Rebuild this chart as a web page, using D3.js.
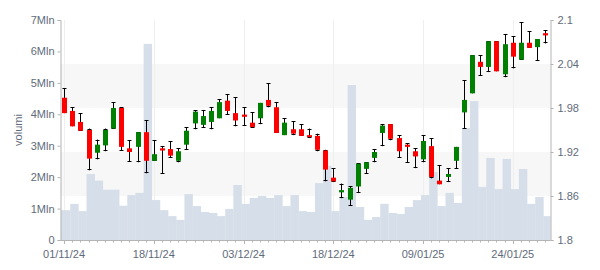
<!DOCTYPE html>
<html>
<head>
<meta charset="utf-8">
<script src="https://cdn.jsdelivr.net/npm/d3@7"></script>
<style>
  html, body { margin: 0; padding: 0; background: #fff; }
  svg { display: block; font-family: "Liberation Sans", Arial, sans-serif; }
</style>
</head>
<body>
<svg id="chart" width="600" height="270"></svg>
<script>
// ---- data ----
const dates = [
  "2024-11-01","2024-11-04","2024-11-05","2024-11-06","2024-11-07","2024-11-08",
  "2024-11-11","2024-11-12","2024-11-13","2024-11-14","2024-11-15",
  "2024-11-18","2024-11-19","2024-11-20","2024-11-21","2024-11-22",
  "2024-11-25","2024-11-26","2024-11-27","2024-11-28","2024-11-29",
  "2024-12-02","2024-12-03","2024-12-04","2024-12-05","2024-12-06",
  "2024-12-09","2024-12-10","2024-12-11","2024-12-12","2024-12-13",
  "2024-12-16","2024-12-17","2024-12-18","2024-12-19","2024-12-20",
  "2024-12-23","2024-12-27","2024-12-30",
  "2025-01-02","2025-01-03","2025-01-06","2025-01-07","2025-01-08","2025-01-09","2025-01-10",
  "2025-01-13","2025-01-14","2025-01-15","2025-01-16","2025-01-17",
  "2025-01-20","2025-01-21","2025-01-22","2025-01-23","2025-01-24",
  "2025-01-27","2025-01-28","2025-01-29","2025-01-30"
];
const openP = [
  1.994,1.976,1.961,1.950,1.919,1.929,1.952,1.980,1.925,1.927,1.947,
  1.908,1.925,1.924,1.908,1.930,1.959,1.957,1.961,1.966,1.990,
  1.973,1.971,1.960,1.966,1.991,1.981,1.943,1.951,1.951,1.943,
  1.942,1.922,1.885,1.865,1.855,1.873,1.897,1.912,
  1.946,1.958,1.939,1.930,1.921,1.910,1.928,1.881,1.886,1.908,1.974,2.000,
  2.043,2.036,2.071,2.026,2.069,2.046,2.069,2.063,2.082
];
const highP = [
  2.007,1.981,1.973,1.952,1.937,1.952,1.988,1.981,1.936,1.947,1.963,
  1.936,1.928,1.935,1.925,1.954,1.977,1.977,1.981,1.992,1.999,
  1.995,1.981,1.974,1.987,2.014,1.988,1.966,1.962,1.958,1.952,
  1.945,1.923,1.898,1.877,1.873,1.905,1.906,1.924,
  1.958,1.958,1.943,1.932,1.925,1.943,1.939,1.902,1.898,1.927,2.018,2.052,
  2.052,2.071,2.071,2.081,2.078,2.097,2.085,2.074,2.086
];
const lowP = [
  1.973,1.955,1.949,1.895,1.910,1.921,1.952,1.922,1.907,1.906,1.891,
  1.908,1.890,1.912,1.906,1.923,1.951,1.953,1.951,1.966,1.971,
  1.955,1.956,1.953,1.958,1.981,1.946,1.943,1.943,1.942,1.939,
  1.921,1.880,1.879,1.857,1.847,1.864,1.890,1.906,
  1.928,1.936,1.912,1.905,1.898,1.906,1.884,1.876,1.879,1.897,1.952,2.000,
  2.024,2.029,2.030,2.022,2.034,2.046,2.062,2.044,2.068
];
const closeP = [
  1.973,1.955,1.949,1.911,1.930,1.950,1.980,1.927,1.920,1.947,1.908,
  1.917,1.922,1.915,1.921,1.949,1.975,1.969,1.976,1.988,1.976,
  1.963,1.968,1.954,1.987,1.983,1.946,1.960,1.945,1.942,1.941,
  1.923,1.896,1.880,1.868,1.871,1.904,1.906,1.920,
  1.956,1.938,1.921,1.927,1.914,1.935,1.886,1.876,1.890,1.927,1.991,2.052,
  2.036,2.071,2.030,2.067,2.050,2.069,2.062,2.074,2.079
];
const volume = [
  950000,1150000,920000,2100000,1890000,1600000,1600000,1090000,1430000,1500000,6240000,
  1270000,950000,760000,640000,1460000,1080000,890000,860000,760000,990000,
  1750000,1150000,1340000,1400000,1340000,1430000,1080000,1430000,920000,890000,
  1810000,2360000,920000,1370000,4930000,1050000,640000,730000,
  1150000,860000,830000,1050000,1270000,1430000,2160000,1080000,1500000,1180000,3560000,4420000,
  1690000,2610000,1620000,2580000,1620000,2260000,1150000,1370000,760000
];
const volTicks = [0,1e6,2e6,3e6,4e6,5e6,6e6,7e6];
const priceTicks = [1.8,1.86,1.92,1.98,2.04,2.1];
const dateTickIdx = [0,11,22,33,44,55];
const yTitle = "volumi";

// ---- layout ----
const L = 60.5, R = 550.5, T = 20, B = 240;
const txtColor = "#5f6b7b", axisColor = "#b4b4b4";
const svg = d3.select("#chart");

const x = d3.scaleBand().domain(dates).range([L - 0.5, R - 1]).padding(0);
const step = x.step();
const xc = d => x(d) + step / 2;
const yV = d3.scaleLinear().domain([0, 7e6]).range([B, T]);
const yP = d3.scaleLinear().domain([1.8, 2.1]).range([B, T]);

const data = dates.map((d, i) => ({ d, i, o: openP[i], h: highP[i], l: lowP[i], c: closeP[i], v: volume[i] }));

// clip
svg.append("defs").append("clipPath").attr("id", "plot")
  .append("rect").attr("x", L).attr("y", T).attr("width", R - L).attr("height", B - T);

// alternate bands on price axis
const bands = d3.pairs(priceTicks).filter((p, i) => i % 2 === 1);
svg.append("g").selectAll("rect").data(bands).join("rect")
  .attr("x", L).attr("width", R - L)
  .attr("y", p => yP(p[1])).attr("height", p => yP(p[0]) - yP(p[1]))
  .attr("fill", "#f7f7f7");

// faint vertical grid lines
svg.append("g").selectAll("line").data(dateTickIdx).join("line")
  .attr("x1", i => Math.round(xc(dates[i])) + 0.5).attr("x2", i => Math.round(xc(dates[i])) + 0.5)
  .attr("y1", T).attr("y2", B)
  .attr("stroke", "#efefef").attr("stroke-width", 1);

// volume bars
svg.append("g").attr("clip-path", "url(#plot)").selectAll("rect").data(data).join("rect")
  .attr("x", d => d.i === 0 ? L : x(d.d) + step * 0.25)
  .attr("width", d => d.i === 0 ? x(d.d) + step * 1.25 - L : step + 0.3)
  .attr("y", d => yV(d.v)).attr("height", d => B - yV(d.v))
  .attr("fill", "#d6dfe9");

// candles
const cg = svg.append("g").selectAll("g").data(data).join("g");
const cx = d => Math.round(xc(d.d)) + 0.5;
cg.append("line").attr("x1", cx).attr("x2", cx)
  .attr("y1", d => yP(d.h)).attr("y2", d => yP(d.l))
  .attr("stroke", "#000").attr("stroke-width", 1);
cg.append("line").attr("x1", d => cx(d) - 2).attr("x2", d => cx(d) + 2)
  .attr("y1", d => Math.round(yP(d.h)) + 0.5).attr("y2", d => Math.round(yP(d.h)) + 0.5)
  .attr("stroke", "#000").attr("stroke-width", 1);
cg.append("line").attr("x1", d => cx(d) - 2).attr("x2", d => cx(d) + 2)
  .attr("y1", d => Math.round(yP(d.l)) - 0.5).attr("y2", d => Math.round(yP(d.l)) - 0.5)
  .attr("stroke", "#000").attr("stroke-width", 1);
const bw = 5;
cg.append("rect")
  .attr("x", d => cx(d) - bw / 2)
  .attr("width", bw)
  .attr("y", d => yP(Math.max(d.o, d.c)))
  .attr("height", d => Math.max(2, Math.abs(yP(d.o) - yP(d.c))))
  .attr("fill", d => d.c >= d.o ? "#008000" : "#ff0000");

// axes
const styleAxis = g => {
  g.select(".domain").attr("stroke", axisColor);
  g.selectAll(".tick line").attr("stroke", axisColor);
  g.selectAll(".tick text").attr("fill", txtColor).attr("font-size", 11)
    .attr("font-family", "'Liberation Sans', Arial, sans-serif");
};

svg.append("g").attr("transform", `translate(${L},0)`)
  .call(d3.axisLeft(yV).tickValues(volTicks).tickSize(3).tickPadding(3)
    .tickFormat(v => v === 0 ? "0" : (v / 1e6) + "Mln"))
  .call(styleAxis);

svg.append("g").attr("transform", `translate(${R},0)`)
  .call(d3.axisRight(yP).tickValues(priceTicks).tickSize(3).tickPadding(4)
    .tickFormat(v => String(+v.toFixed(2))))
  .call(styleAxis);

const fmt = d3.timeFormat("%d/%m/%y"), parse = d3.timeParse("%Y-%m-%d");
const xAxisScale = d3.scalePoint().domain(dates).range([xc(dates[0]), xc(dates[dates.length - 1])]);
const gx = svg.append("g").attr("transform", `translate(0,${B})`);
gx.append("line").attr("x1", L).attr("x2", R).attr("y1", 0.5).attr("y2", 0.5).attr("stroke", axisColor);
gx.selectAll("line.minor").data(dates).join("line").attr("class", "minor")
  .attr("x1", d => Math.round(xc(d)) + 0.5).attr("x2", d => Math.round(xc(d)) + 0.5)
  .attr("y1", 0.5).attr("y2", (d, i) => dateTickIdx.includes(i) ? 4 : 2.5)
  .attr("stroke", axisColor);
gx.selectAll("text").data(dateTickIdx).join("text")
  .attr("x", i => xc(dates[i])).attr("y", 18)
  .attr("text-anchor", "middle").attr("font-size", 11).attr("fill", txtColor)
  .text(i => fmt(parse(dates[i])));

// y-axis title
svg.append("text").attr("transform", `translate(22,${(T + B) / 2}) rotate(-90)`)
  .attr("text-anchor", "middle").attr("font-size", 11).attr("fill", txtColor)
  .text(yTitle);
</script>
</body>
</html>
